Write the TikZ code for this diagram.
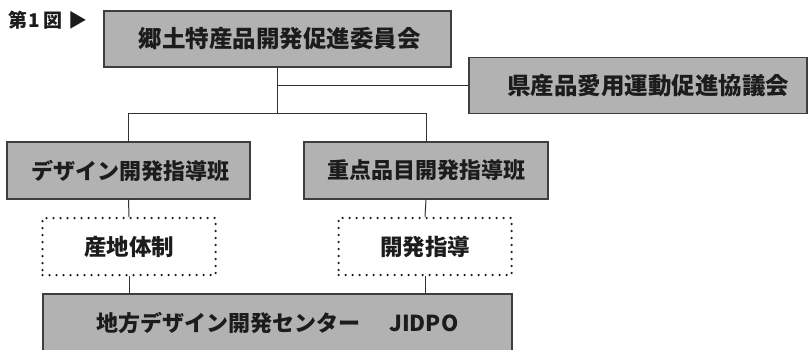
\documentclass[tikz,border=0pt]{standalone}
\usepackage{fontspec}
\newfontfamily\cjk{Noto Sans CJK JP}
\definecolor{boxgray}{HTML}{B2B2B2}
\definecolor{ink}{HTML}{1C1C1C}
\begin{document}
\begin{tikzpicture}[x=1pt,y=-1pt,
  box/.style={draw=ink!85, line width=1.1pt, fill=boxgray, inner sep=0pt,
    minimum height=56pt, text=ink, font=\cjk\bfseries\fontsize{22}{22}\selectfont},
  dotbox/.style={draw=ink, line width=2.5pt, dash pattern=on 0pt off 7pt, line cap=round,
    inner sep=0pt, minimum width=173pt, minimum height=57pt, text=ink,
    font=\cjk\bfseries\fontsize{22.5}{22.5}\selectfont},
  conn/.style={draw=ink!90, line width=1pt}]
\useasboundingbox (0,0) rectangle (808,350);

\node[anchor=west, text=ink, font=\cjk\bfseries\fontsize{19}{19}\selectfont, inner sep=0pt] (fig) at (8,20) {第\hspace{0.08em}1\hspace{0.15em}図\hspace{0.35em}▶};

\node[box, minimum width=347pt, font=\cjk\bfseries\fontsize{23.5}{23.5}\selectfont] (top) at (277.5,39) {\hspace{4pt}郷土特産品開発促進委員会};
\node[box, minimum width=338pt, font=\cjk\bfseries\fontsize{23.5}{23.5}\selectfont] (pref) at (638,85.5) {\hspace{20pt}県産品愛用運動促進協議会};
\node[box, minimum width=243pt, minimum height=57pt] (des) at (128.5,170.5) {\hspace{3pt}デザイン開発指導班};
\node[box, minimum width=244pt, minimum height=57pt] (jyu) at (426,170.5) {重点品目開発指導班};
\node[dotbox] (sanchi) at (129,246.5) {産地体制};
\node[dotbox] (kaihatsu) at (425,246.5) {開発指導};
\node[box, minimum width=469pt, minimum height=58pt] (center) at (277.5,323) {地方デザイン開発センター\hspace{1.3em}JIDPO};

\coordinate (j) at (277.5,114);
\draw[conn] (top.south) -- (j);
\draw[conn] (pref.west) -- (pref.west -| top.south);
\draw[conn] (des.north) -- (des.north |- j) -- (jyu.north |- j) -- (jyu.north);
\draw[conn] (des.south) -- (sanchi.north);
\draw[conn] (jyu.south) -- (kaihatsu.north);
\draw[conn] (sanchi.south) -- (sanchi.south |- center.north);
\draw[conn] (kaihatsu.south) -- (kaihatsu.south |- center.north);
\end{tikzpicture}
\end{document}
